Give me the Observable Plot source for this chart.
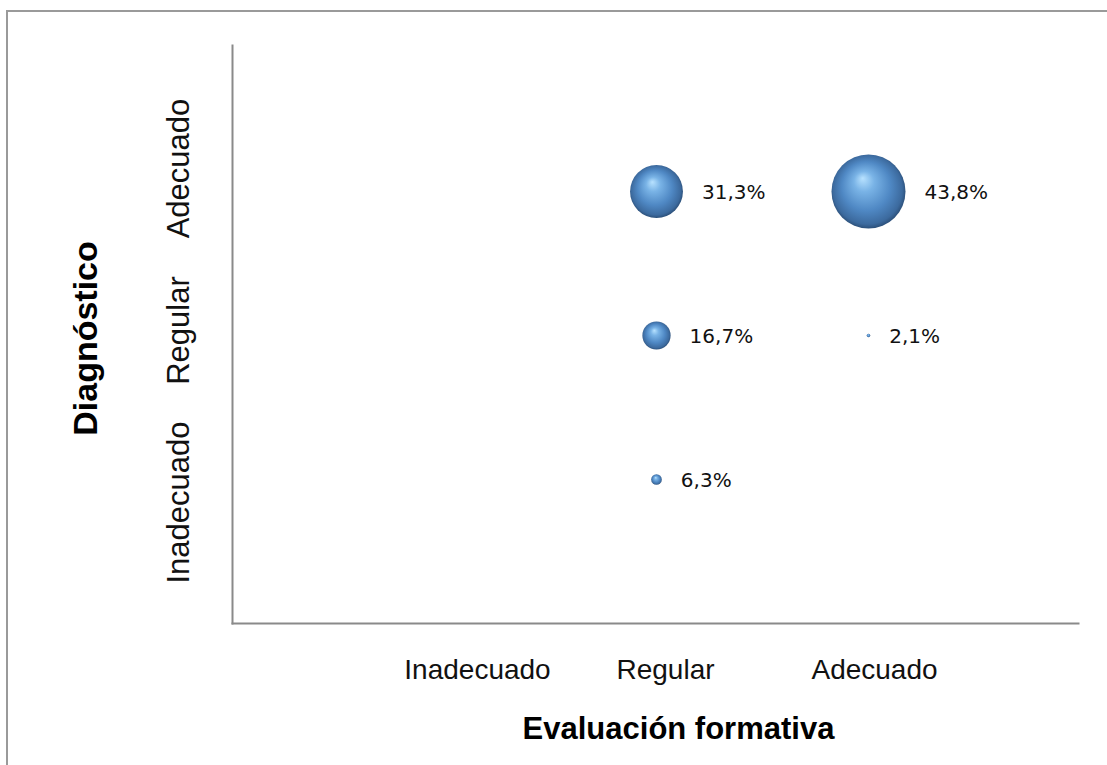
<!DOCTYPE html>
<html>
<head>
<meta charset="utf-8">
<script src="https://cdn.jsdelivr.net/npm/d3@7"></script>
<script src="https://cdn.jsdelivr.net/npm/@observablehq/plot@0.6"></script>
<style>
  html, body { margin: 0; padding: 0; background: #fff; }
  #wrap { position: relative; width: 1107px; height: 765px; overflow: hidden; }
  #border { position: absolute; left: 6px; top: 10px; width: 1200px; height: 800px;
            border-top: 2px solid #9a9a9a; border-left: 2px solid #9a9a9a; box-sizing: border-box; }
  #chart { position: absolute; left: 0; top: 0; }
</style>
</head>
<body>
<div id="wrap"><div id="border"></div><div id="chart"></div></div>
<script>
// ---- data ----
const evalCats = ["Inadecuado", "Regular", "Adecuado"];      // x categories (Evaluación formativa)
const diagCats = ["Inadecuado", "Regular", "Adecuado"];      // y categories (Diagnóstico)
const evaluacion  = ["Regular", "Adecuado", "Regular", "Adecuado", "Regular"];
const diagnostico = ["Adecuado", "Adecuado", "Regular", "Regular", "Inadecuado"];
const porcentaje  = [31.3, 43.8, 16.7, 2.1, 6.3];

const data = porcentaje.map((v, i) => ({ x: evaluacion[i], y: diagnostico[i], v }));
const fmt = v => v.toFixed(1).replace(".", ",") + "%";

// styling constants (pixel offsets of the category labels, as in the original layout)
const xTickDx = [33, 9, 6];
const yTickDy = [23, -5, -23];
const V_MAX = 43.8, R_MAX = 37;
const rpx = v => v / V_MAX * R_MAX;

const labelMarks = data.map(d => Plot.text([d], {
  x: "x", y: "y", text: d => fmt(d.v),
  textAnchor: "start", lineAnchor: "middle",
  dx: rpx(d.v) + 19, dy: 1,
  fontSize: 20, fontFamily: "DejaVu Sans, Verdana, sans-serif", fill: "#111"
}));

const xTickMarks = evalCats.map((c, i) => Plot.text([c], {
  x: d => d, frameAnchor: "bottom", dx: xTickDx[i], dy: 36,
  textAnchor: "middle", lineAnchor: "top", fontSize: 28, fill: "#111"
}));

const yTickMarks = diagCats.map((c, i) => Plot.text([c], {
  y: d => d, frameAnchor: "left", dx: -53, dy: yTickDy[i], rotate: -90,
  textAnchor: "middle", lineAnchor: "middle", fontSize: 31, fill: "#111"
}));

const chart = Plot.plot({
  width: 1107, height: 765,
  marginLeft: 232, marginTop: 45, marginRight: 29, marginBottom: 142,
  style: { fontFamily: "Liberation Sans, Arial, sans-serif", background: "transparent", overflow: "visible" },
  x: { type: "point", domain: evalCats, range: [444, 868], padding: 0, axis: null },
  y: { type: "point", domain: diagCats, range: [479, 190], padding: 0, axis: null },
  r: { type: "linear", domain: [0, V_MAX], range: [0, R_MAX] },
  marks: [
    Plot.frame({ anchor: "left", stroke: "#8a8a8a", strokeWidth: 2 }),
    Plot.frame({ anchor: "bottom", stroke: "#8a8a8a", strokeWidth: 2 }),
    ...xTickMarks,
    ...yTickMarks,
    Plot.text(["Evaluación formativa"], {
      frameAnchor: "bottom", dx: 23, dy: 106, textAnchor: "middle", lineAnchor: "middle",
      fontSize: 31, fontWeight: "bold", fill: "#000"
    }),
    Plot.text(["Diagnóstico"], {
      frameAnchor: "left", dx: -146, dy: 4, rotate: -90, textAnchor: "middle", lineAnchor: "middle",
      fontSize: 34, fontWeight: "bold", fill: "#000"
    }),
    Plot.dot(data, { x: "x", y: "y", r: "v", fill: "url(#sphere)", stroke: "none" }),
    ...labelMarks
  ]
});

// sphere gradient
const ns = "http://www.w3.org/2000/svg";
const defs = document.createElementNS(ns, "defs");
defs.innerHTML = `
  <radialGradient id="sphere" cx="0.5" cy="0.5" r="0.55" fx="0.42" fy="0.32">
    <stop offset="0" stop-color="#b8e2ff"/>
    <stop offset="0.25" stop-color="#79b3e6"/>
    <stop offset="0.6" stop-color="#4f88c4"/>
    <stop offset="0.85" stop-color="#3c6a9e"/>
    <stop offset="1" stop-color="#1e3a5c"/>
  </radialGradient>`;
chart.insertBefore(defs, chart.firstChild);
document.getElementById("chart").appendChild(chart);
</script>
</body>
</html>
